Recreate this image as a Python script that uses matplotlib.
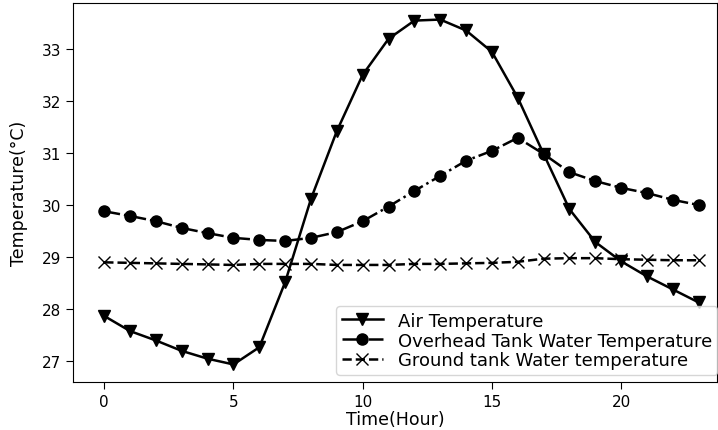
import matplotlib
matplotlib.use("Agg")
import matplotlib.pyplot as plt

hours = list(range(24))
air_temp = [27.87, 27.58, 27.40, 27.20, 27.05, 26.94, 27.27, 28.52, 30.12, 31.42,
            32.50, 33.19, 33.54, 33.56, 33.35, 32.94, 32.06, 30.98, 29.92, 29.29,
            28.92, 28.63, 28.38, 28.13]
overhead_temp = [29.88, 29.79, 29.69, 29.56, 29.46, 29.37, 29.33, 29.31, 29.37, 29.48,
                 29.69, 29.97, 30.27, 30.56, 30.85, 31.04, 31.29, 30.98, 30.63, 30.46,
                 30.33, 30.23, 30.10, 30.00]
ground_temp = [28.90, 28.89, 28.88, 28.87, 28.86, 28.85, 28.87, 28.87, 28.87, 28.85,
               28.85, 28.85, 28.87, 28.87, 28.88, 28.89, 28.91, 28.97, 28.98, 28.98,
               28.96, 28.95, 28.94, 28.94]

fig = plt.figure(figsize=(7.18, 4.31), dpi=100)
ax = fig.add_axes([0.102, 0.111, 0.897, 0.880])

ax.plot(hours, air_temp, color='black', linestyle='-', marker='v', markersize=8,
        linewidth=1.8, label='Air Temperature')
ax.plot(hours, overhead_temp, color='black', linestyle='-.', marker='o', markersize=8,
        linewidth=1.8, label='Overhead Tank Water Temperature')
ax.plot(hours, ground_temp, color='black', linestyle='--', marker='x', markersize=8,
        linewidth=1.8, label='Ground tank Water temperature')

ax.set_xlim(-1.2, 23.72)
ax.set_ylim(26.6, 33.88)
ax.set_xticks([0, 5, 10, 15, 20])
ax.set_yticks([27, 28, 29, 30, 31, 32, 33])
ax.tick_params(labelsize=11, length=5)
ax.set_xlabel('Time(Hour)', fontsize=12.5, labelpad=1)
ax.set_ylabel('Temperature(°C)', fontsize=12.5, labelpad=10)
ax.legend(loc='lower right', fontsize=13, handlelength=2.3,
          bbox_to_anchor=(0.999, 0.128), bbox_transform=fig.transFigure,
          borderaxespad=0, labelspacing=0.1, borderpad=0.3)

fig.savefig('out.png', dpi=100)
